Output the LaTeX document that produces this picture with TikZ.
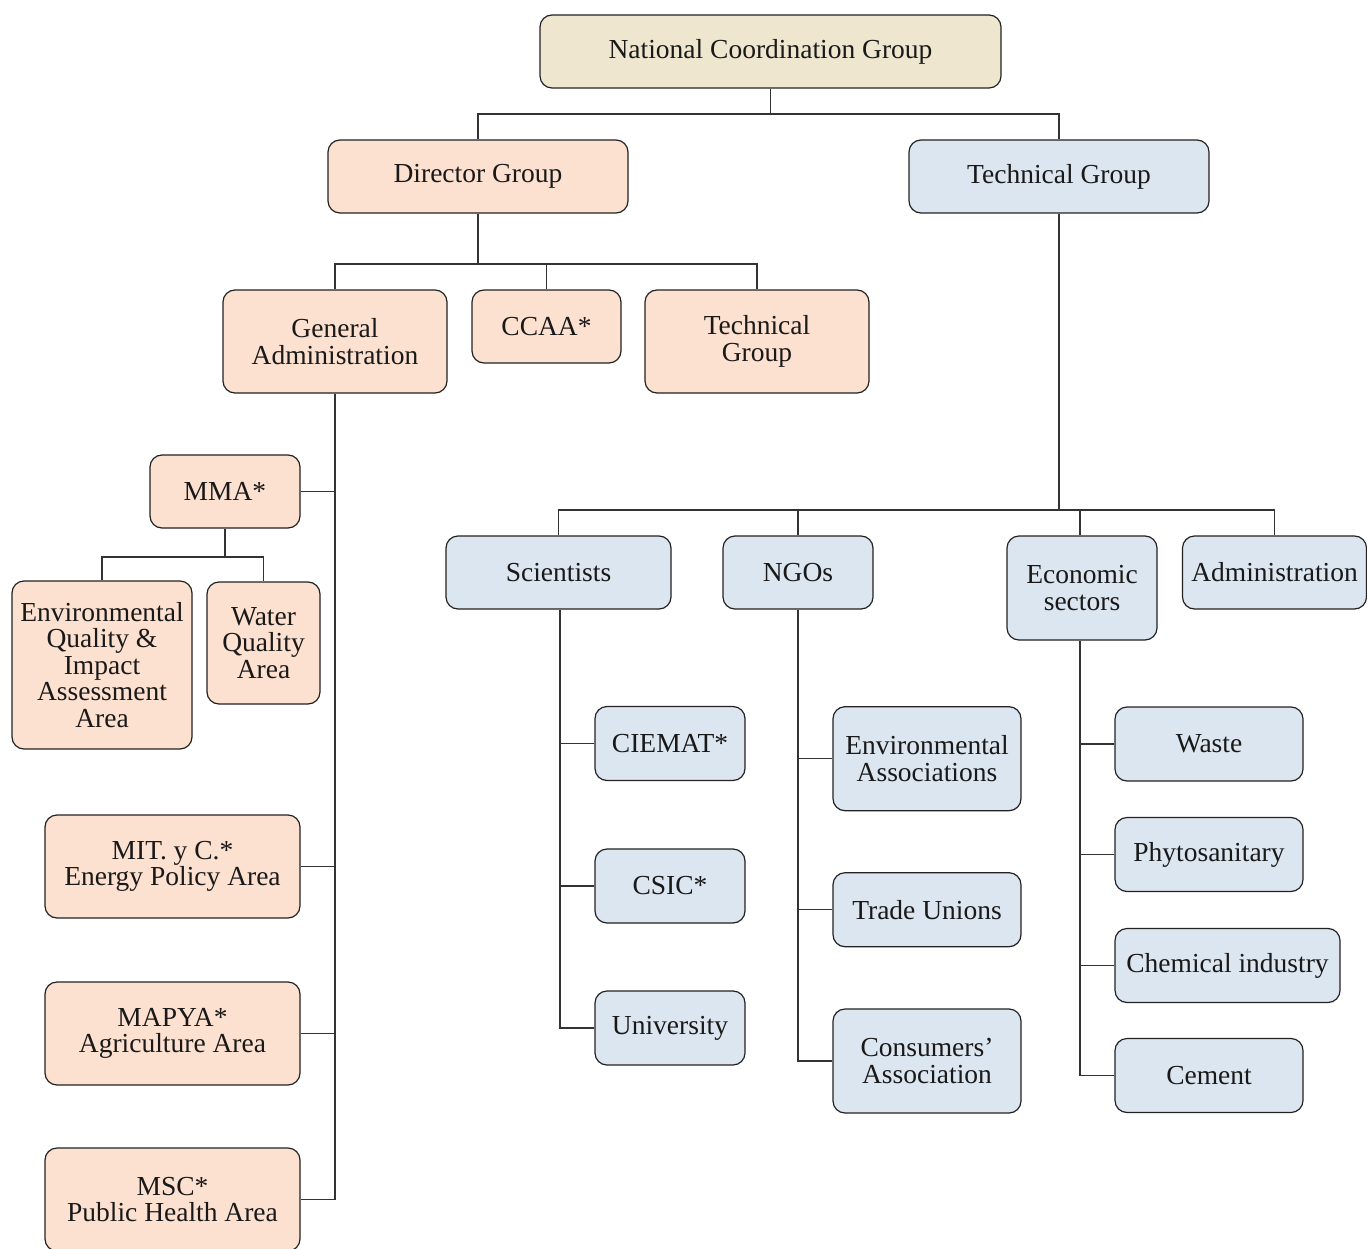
\documentclass[tikz,border=0pt]{standalone}
\usepackage{fontspec}
\setmainfont{Liberation Serif}
\definecolor{beige}{HTML}{EFE6D0}
\definecolor{peach}{HTML}{FCE0D0}
\definecolor{paleblue}{HTML}{DCE6F0}
\definecolor{edge}{HTML}{222222}
\definecolor{wire}{HTML}{333333}
\begin{document}
\begin{tikzpicture}[x=1pt,y=-1pt,
  box/.style={draw=edge, line width=1.2pt, rounded corners=12pt, align=center,
    inner sep=0pt, text=black!90, font=\fontsize{27.5}{26.5}\selectfont},
  bbeige/.style={box, fill=beige},
  bpeach/.style={box, fill=peach},
  bblue/.style={box, fill=paleblue},
  conn/.style={draw=wire, line width=1.2pt}]
\clip (0,0) rectangle (1367,1249);
\fill[white] (0,0) rectangle (1367,1249);

% top
\node[bbeige, minimum width=461pt, minimum height=73pt] (ncg) at (770.5,51.5) {National Coordination Group};
\node[bpeach, minimum width=300pt, minimum height=73pt] (dir) at (478,176.5) {Director Group};
\node[bblue, minimum width=300pt, minimum height=73pt] (tech) at (1059,176.5) {Technical Group};

% director children
\node[bpeach, minimum width=224pt, minimum height=103pt] (gen) at (335,341.5) {General\\Administration};
\node[bpeach, minimum width=149pt, minimum height=73pt] (ccaa) at (546.5,326.5) {CCAA*};
\node[bpeach, minimum width=224pt, minimum height=103pt] (tg2) at (757,341.5) {Technical\\Group};

% general administration children
\node[bpeach, minimum width=150pt, minimum height=73pt] (mma) at (225,491.5) {MMA*};
\node[bpeach, minimum width=180pt, minimum height=168pt] (env) at (102,665) {Environmental\\Quality \&\\Impact\\Assessment\\Area};
\node[bpeach, minimum width=113pt, minimum height=122pt] (water) at (263.5,643) {Water\\Quality\\Area};
\node[bpeach, minimum width=255pt, minimum height=103pt] (mit) at (172.5,866.5) {MIT. y C.*\\Energy Policy Area};
\node[bpeach, minimum width=255pt, minimum height=103pt] (mapya) at (172.5,1033.5) {MAPYA*\\Agriculture Area};
\node[bpeach, minimum width=255pt, minimum height=103pt] (msc) at (172.5,1199.5) {MSC*\\Public Health Area};

% technical group children
\node[bblue, minimum width=225pt, minimum height=73pt] (sci) at (558.5,572.5) {Scientists};
\node[bblue, minimum width=150pt, minimum height=73pt] (ngo) at (798,572.5) {NGOs};
\node[bblue, minimum width=150pt, minimum height=104pt] (eco) at (1082,588) {Economic\\sectors};
\node[bblue, minimum width=184pt, minimum height=73pt] (adm) at (1274.5,572.5) {Administration};

% scientists children
\node[bblue, minimum width=150pt, minimum height=74pt] (ciemat) at (670,743.5) {CIEMAT*};
\node[bblue, minimum width=150pt, minimum height=74pt] (csic) at (670,886) {CSIC*};
\node[bblue, minimum width=150pt, minimum height=74pt] (univ) at (670,1028) {University};

% NGO children
\node[bblue, minimum width=188pt, minimum height=104pt] (envas) at (927,758.7) {Environmental\\Associations};
\node[bblue, minimum width=188pt, minimum height=74pt] (trade) at (927,909.7) {Trade Unions};
\node[bblue, minimum width=188pt, minimum height=104pt] (cons) at (927,1061) {Consumers’\\Association};

% economic children
\node[bblue, minimum width=188pt, minimum height=74pt] (waste) at (1209,744) {Waste};
\node[bblue, minimum width=188pt, minimum height=74pt] (phyto) at (1209,854.5) {Phytosanitary};
\node[bblue, minimum width=225pt, minimum height=74pt] (chem) at (1227.5,965.5) {Chemical industry};
\node[bblue, minimum width=188pt, minimum height=74pt] (cement) at (1209,1075.5) {Cement};

% junctions and trunk tops
\coordinate (j1) at (770.5,114);
\coordinate (j2) at (478,264);
\coordinate (j3) at (225,557);
\coordinate (j4) at (1059,510);
\coordinate (sciT) at ([xshift=1.5pt]sci.south);
\coordinate (ecoN) at ([xshift=-2pt]eco.north);
\coordinate (ecoT) at ([xshift=-2pt]eco.south);

% connectors
\draw[conn] (ncg.south) -- (j1);
\draw[conn] (dir.north) |- (j1) -| (tech.north);

\draw[conn] (dir.south) -- (j2);
\draw[conn] (gen.north) |- (j2) -| (tg2.north);
\draw[conn] (ccaa.north) -- (ccaa.north |- j2);

\draw[conn] (gen.south) |- (msc.east);
\draw[conn] (mma.east) -- (mma.east -| gen.south);
\draw[conn] (mit.east) -- (mit.east -| gen.south);
\draw[conn] (mapya.east) -- (mapya.east -| gen.south);

\draw[conn] (mma.south) -- (j3);
\draw[conn] (env.north) |- (j3) -| (water.north);

\draw[conn] (tech.south) -- (j4);
\draw[conn] (sci.north) |- (j4) -| (adm.north);
\draw[conn] (ngo.north) -- (ngo.north |- j4);
\draw[conn] (ecoN) -- (ecoN |- j4);

\draw[conn] (sciT) |- (univ.west);
\draw[conn] (ciemat.west) -- (ciemat.west -| sciT);
\draw[conn] (csic.west) -- (csic.west -| sciT);

\draw[conn] (ngo.south) |- (cons.west);
\draw[conn] (envas.west) -- (envas.west -| ngo.south);
\draw[conn] (trade.west) -- (trade.west -| ngo.south);

\draw[conn] (ecoT) |- (cement.west);
\draw[conn] (waste.west) -- (waste.west -| ecoT);
\draw[conn] (phyto.west) -- (phyto.west -| ecoT);
\draw[conn] (chem.west) -- (chem.west -| ecoT);
\end{tikzpicture}
\end{document}
